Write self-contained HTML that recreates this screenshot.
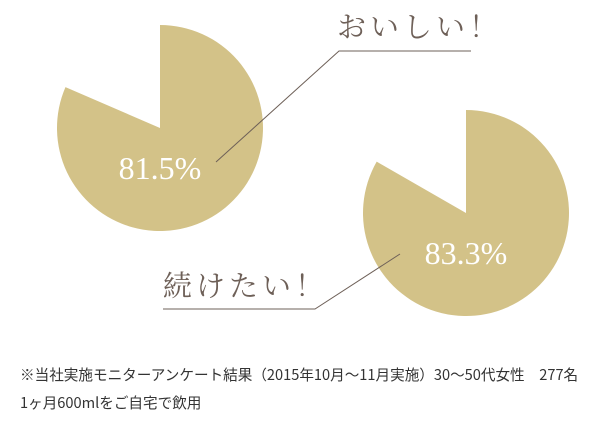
<!DOCTYPE html>
<html><head><meta charset="utf-8"><style>
body{margin:0;background:#fff;width:614px;height:423px;overflow:hidden;font-family:"Liberation Sans","Noto Sans CJK JP",sans-serif}
svg{position:absolute;left:0;top:0}
.note{position:absolute;left:20px;font-size:14.6px;color:#333;white-space:nowrap;font-family:"Noto Sans CJK JP","Liberation Sans",sans-serif}
</style></head><body>
<svg width="614" height="423">
<g id="pies"></g>
<text x="337" y="37" font-size="29" fill="#6e6058" font-family="'Noto Serif CJK SC','Liberation Serif',serif" letter-spacing="4">おいしい！</text>
<polyline points="216,162 339,51 471,51" fill="none" stroke="#6e6058" stroke-width="1"/>
<text x="163" y="296" font-size="29" fill="#6e6058" font-family="'Noto Serif CJK SC','Liberation Serif',serif" letter-spacing="4">続けたい！</text>
<polyline points="400,254 315,309 163,309" fill="none" stroke="#6e6058" stroke-width="1"/>
</svg>
<div class="note" style="top:364px">※当社実施モニターアンケート結果（2015年10月～11月実施）30～50代女性　277名</div>
<div class="note" style="top:392px">1ヶ月600mlをご自宅で飲用</div>
<script>
const values=[81.5,83.3];
const labels=["81.5%","83.3%"];
const cx=[160,466], cy=[128,213], R=103;
const g=document.getElementById('pies');
const ns='http://www.w3.org/2000/svg';
values.forEach((v,i)=>{
  const a=v/100*2*Math.PI;
  const x=cx[i]+R*Math.sin(a), y=cy[i]-R*Math.cos(a);
  const large=v>50?1:0;
  const p=document.createElementNS(ns,'path');
  p.setAttribute('d',`M${cx[i]},${cy[i]} L${cx[i]},${cy[i]-R} A${R},${R} 0 ${large} 1 ${x},${y} Z`);
  p.setAttribute('fill','#d3c288');
  
  
  g.appendChild(p);
  const t=document.createElementNS(ns,'text');
  t.setAttribute('x',cx[i]);t.setAttribute('y',cy[i]+51);
  t.setAttribute('text-anchor','middle');t.setAttribute('fill','#fff');
  t.setAttribute('font-size','32');t.setAttribute('font-family','Liberation Serif, serif');
  t.textContent=labels[i];
  
  
  g.appendChild(t);
});
</script>
</body></html>
